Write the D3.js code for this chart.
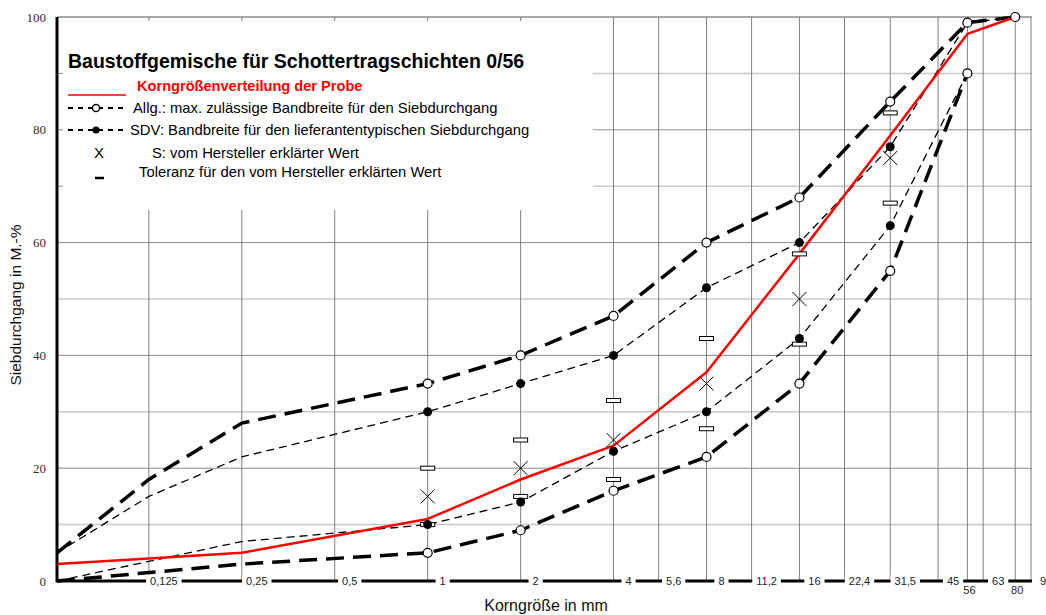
<!DOCTYPE html>
<html>
<head>
<meta charset="utf-8">
<script src="https://cdn.jsdelivr.net/npm/d3@7"></script>
<style>
  body { margin: 0; background: #fff; }
  svg { display: block; font-family: "Liberation Sans", Arial, sans-serif; }
</style>
</head>
<body>
<svg id="chart" width="1046" height="615"></svg>
<script>
// sieve sizes in mm and passing values in M.-%
const sieveSizes = [0.063, 0.125, 0.25, 1, 2, 4, 8, 16, 31.5, 56, 80];
const probe      = [3, 4, 5, 11, 18, 24, 37, 58, 79, 97, 100];
const allgUpper  = [5, 18, 28, 35, 40, 47, 60, 68, 85, 99, 100];
const allgLower  = [0, null, 3, 5, 9, 16, 22, 35, 55, 90, null];
const sdvUpper   = [5, 15, 22, 30, 35, 40, 52, 60, 77, 99, 100];
const sdvLower   = [0, null, 7, 10, 14, 23, 30, 43, 63, 90, null];

// declared value S and its tolerance
const sSieves  = [1, 2, 4, 8, 16, 31.5];
const sValues  = [15, 20, 25, 35, 50, 75];
const tolUpper = [20, 25, 32, 43, 58, 83];
const tolLower = [10, 15, 18, 27, 42, 67];

// x axis
const tickSieves = [0.125, 0.25, 0.5, 1, 2, 4, 5.6, 8, 11.2, 16, 22.4, 31.5, 45, 56, 63, 80, 90];
const tickLabels = ["0,125", "0,25", "0,5", "1", "2", "4", "5,6", "8", "11,2", "16", "22,4", "31,5", "45", "56", "63", "80", "90"];
const lowLabels = ["56", "80"];
const yTicks = [0, 20, 40, 60, 80, 100];

const svg = d3.select("#chart");
const pLeft = 57, pRight = 1031, pTop = 17, pBottom = 581;

const x = d3.scaleLog().domain([0.063, 90]).range([pLeft, pRight]);
const y = d3.scaleLinear().domain([0, 100]).range([pBottom, pTop]);

// grid
const grid = svg.append("g");
grid.selectAll("line.h")
    .data(d3.range(10, 101, 10))
    .enter().append("line")
    .attr("x1", pLeft).attr("x2", pRight + 1)
    .attr("y1", d => y(d)).attr("y2", d => y(d))
    .attr("stroke", d => d % 20 === 0 ? "#8a8a8a" : "#c8c8c8")
    .attr("stroke-width", d => d % 20 === 0 ? 1 : 1.5);
grid.selectAll("line.v")
    .data(tickSieves)
    .enter().append("line")
    .attr("x1", d => x(d)).attr("x2", d => x(d))
    .attr("y1", pTop).attr("y2", pBottom)
    .attr("stroke", "#808080")
    .attr("stroke-width", 1);

// legend background hides the grid in the upper left
svg.append("rect")
    .attr("x", pLeft + 1).attr("y", pTop + 1)
    .attr("width", 592 - pLeft).attr("height", 209 - pTop)
    .attr("fill", "#fff");

svg.append("line")
    .attr("x1", pLeft).attr("x2", pRight + 1)
    .attr("y1", pTop).attr("y2", pTop)
    .attr("stroke", "#8a8a8a");
svg.selectAll("line.tt")
    .data(tickSieves.filter(d => x(d) < 592))
    .enter().append("line")
    .attr("x1", d => x(d)).attr("x2", d => x(d))
    .attr("y1", pTop).attr("y2", pTop + 4)
    .attr("stroke", "#808080");
svg.selectAll("line.lt")
    .data([70, 80, 90])
    .enter().append("line")
    .attr("x1", pLeft).attr("x2", pLeft + 6)
    .attr("y1", d => y(d)).attr("y2", d => y(d))
    .attr("stroke", "#8a8a8a");

// y axis labels
svg.selectAll("text.yl")
    .data(yTicks)
    .enter().append("text")
    .attr("x", 46).attr("y", d => y(d))
    .attr("dy", "0.35em")
    .attr("text-anchor", "end")
    .attr("font-family", "'Liberation Serif', 'Times New Roman', serif")
    .attr("font-size", 13)
    .attr("fill", "#333")
    .text(d => d);

svg.append("text")
    .attr("transform", `translate(21,${(pTop + pBottom) / 2 + 6}) rotate(-90)`)
    .attr("text-anchor", "middle")
    .attr("font-size", 15.5)
    .attr("fill", "#111")
    .text("Siebdurchgang in M.-%");

svg.append("text")
    .attr("x", 546).attr("y", 611)
    .attr("text-anchor", "middle")
    .attr("font-size", 16)
    .attr("fill", "#111")
    .text("Korngröße in mm");

// axes lines
svg.append("line")
    .attr("x1", pLeft).attr("x2", pRight + 1)
    .attr("y1", pBottom).attr("y2", pBottom)
    .attr("stroke", "#000").attr("stroke-width", 3);
svg.append("line")
    .attr("x1", pLeft).attr("x2", pLeft)
    .attr("y1", pTop).attr("y2", pBottom + 1.5)
    .attr("stroke", "#000").attr("stroke-width", 3);

// x labels sit on the axis line with a white box behind them
const xl = svg.selectAll("g.xl")
    .data(tickSieves.map((d, i) => ({ v: d, label: tickLabels[i] })))
    .enter().append("g")
    .attr("transform", d => {
        const low = lowLabels.includes(d.label);
        return `translate(${x(d.v) + (low ? 2 : 15)},${low ? 590 : 581})`;
    });
xl.append("rect").attr("fill", "#fff");
xl.append("text")
    .attr("text-anchor", "middle")
    .attr("dy", "0.35em")
    .attr("font-size", 11)
    .attr("fill", "#222")
    .text(d => d.label);
xl.each(function () {
    const g = d3.select(this);
    const w = g.select("text").node().getComputedTextLength();
    g.select("rect").attr("x", -w / 2 - 4).attr("y", -6).attr("width", w + 8).attr("height", 12);
});

// curves
function pts(vals) {
    return sieveSizes.map((s, i) => [s, vals[i]]).filter(d => d[1] !== null);
}
const line = d3.line().x(d => x(d[0])).y(d => y(d[1]));

const curves = [
    { vals: sdvUpper, width: 1.3, dash: "8,5" },
    { vals: sdvLower, width: 1.3, dash: "8,5" },
    { vals: allgUpper, width: 3.5, dash: "18,9" },
    { vals: allgLower, width: 3.5, dash: "18,9" }
];
svg.selectAll("path.band")
    .data(curves)
    .enter().append("path")
    .attr("d", d => line(pts(d.vals)))
    .attr("fill", "none")
    .attr("stroke", "#000")
    .attr("stroke-width", d => d.width)
    .attr("stroke-dasharray", d => d.dash);

svg.append("path")
    .attr("d", line(pts(probe)))
    .attr("fill", "none")
    .attr("stroke", "#ff0000")
    .attr("stroke-width", 2.5)
    .attr("stroke-linejoin", "round");

// tolerance marks
const tolPts = sSieves.flatMap((s, i) => [[s, tolUpper[i]], [s, tolLower[i]]]);
svg.selectAll("rect.tol")
    .data(tolPts)
    .enter().append("rect")
    .attr("x", d => x(d[0]) - 7).attr("y", d => y(d[1]) - 2)
    .attr("width", 14).attr("height", 4)
    .attr("fill", "#fff")
    .attr("stroke", "#000").attr("stroke-width", 1);

// S crosses
const cross = svg.selectAll("g.s")
    .data(sSieves.map((s, i) => [s, sValues[i]]))
    .enter().append("g")
    .attr("transform", d => `translate(${x(d[0])},${y(d[1])})`);
cross.append("path")
    .attr("d", "M-7,-7L7,7M-7,7L7,-7")
    .attr("stroke", "#000").attr("stroke-width", 1);

// markers
const markerPts = vals => pts(vals).filter(d => d[0] >= 1);
svg.selectAll("circle.sdv")
    .data(markerPts(sdvUpper).concat(markerPts(sdvLower)))
    .enter().append("circle")
    .attr("cx", d => x(d[0])).attr("cy", d => y(d[1]))
    .attr("r", 4.5).attr("fill", "#000");
svg.selectAll("circle.allg")
    .data(markerPts(allgUpper).concat(markerPts(allgLower)))
    .enter().append("circle")
    .attr("cx", d => x(d[0])).attr("cy", d => y(d[1]))
    .attr("r", 4.5).attr("fill", "#fff")
    .attr("stroke", "#000").attr("stroke-width", 1.2);

// legend
const lg = svg.append("g");
lg.append("text")
    .attr("x", 68).attr("y", 68)
    .attr("font-size", 19.5).attr("font-weight", "bold")
    .text("Baustoffgemische für Schottertragschichten 0/56");

lg.append("line")
    .attr("x1", 68).attr("x2", 126).attr("y1", 95).attr("y2", 95)
    .attr("stroke", "#ff0000").attr("stroke-width", 1.5);
lg.append("text")
    .attr("x", 137).attr("y", 91)
    .attr("font-size", 14.6).attr("font-weight", "bold")
    .attr("fill", "#ff0000")
    .text("Korngrößenverteilung der Probe");

lg.append("line")
    .attr("x1", 68).attr("x2", 126).attr("y1", 108).attr("y2", 108)
    .attr("stroke", "#000").attr("stroke-width", 1.8).attr("stroke-dasharray", "5,5");
lg.append("circle")
    .attr("cx", 96).attr("cy", 108).attr("r", 3.6)
    .attr("fill", "#fff").attr("stroke", "#000").attr("stroke-width", 1.5);
lg.append("text")
    .attr("x", 133).attr("y", 113)
    .attr("font-size", 14.8)
    .text("Allg.: max. zulässige Bandbreite für den Siebdurchgang");

lg.append("line")
    .attr("x1", 68).attr("x2", 126).attr("y1", 130).attr("y2", 130)
    .attr("stroke", "#000").attr("stroke-width", 1.8).attr("stroke-dasharray", "5,5");
lg.append("circle")
    .attr("cx", 96).attr("cy", 130).attr("r", 3.6)
    .attr("fill", "#000");
lg.append("text")
    .attr("x", 130).attr("y", 135)
    .attr("font-size", 14.8)
    .text("SDV: Bandbreite für den lieferantentypischen Siebdurchgang");

lg.append("text")
    .attr("x", 99).attr("y", 158)
    .attr("text-anchor", "middle")
    .attr("font-size", 15)
    .text("X");
lg.append("text")
    .attr("x", 152).attr("y", 158)
    .attr("font-size", 14.8)
    .text("S: vom Hersteller erklärter Wert");

lg.append("line")
    .attr("x1", 95).attr("x2", 104).attr("y1", 178).attr("y2", 178)
    .attr("stroke", "#000").attr("stroke-width", 2.5);
lg.append("text")
    .attr("x", 139).attr("y", 177)
    .attr("font-size", 14.8)
    .text("Toleranz für den vom Hersteller erklärten Wert");
</script>
</body>
</html>
